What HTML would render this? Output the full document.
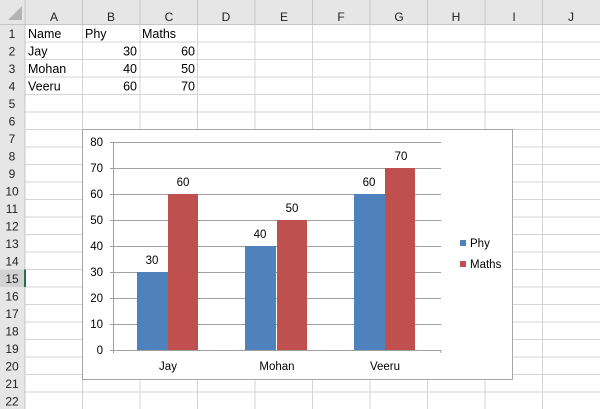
<!DOCTYPE html>
<html><head><meta charset="utf-8"><style>
html,body{margin:0;padding:0;background:#fff;}
svg{display:block;font-family:"Liberation Sans",Calibri,sans-serif;}
</style></head><body>
<svg width="600" height="409" viewBox="0 0 600 409" xmlns="http://www.w3.org/2000/svg">
<rect width="600" height="409" fill="#fff"/>
<rect x="0" y="0" width="600" height="24.5" fill="#e6e6e6"/>
<rect x="0" y="0" width="25" height="409" fill="#e6e6e6"/>
<rect x="0" y="269.5" width="25" height="17.5" fill="#d2d2d2"/>
<polygon points="8,20 22,20 22,6" fill="#b4b4b4"/>
<g stroke="#d4d4d4" stroke-width="1">
<line x1="25" y1="42" x2="600" y2="42"/><line x1="25" y1="59.5" x2="600" y2="59.5"/><line x1="25" y1="77" x2="600" y2="77"/><line x1="25" y1="94.5" x2="600" y2="94.5"/><line x1="25" y1="112" x2="600" y2="112"/><line x1="25" y1="129.5" x2="600" y2="129.5"/><line x1="25" y1="147" x2="600" y2="147"/><line x1="25" y1="164.5" x2="600" y2="164.5"/><line x1="25" y1="182" x2="600" y2="182"/><line x1="25" y1="199.5" x2="600" y2="199.5"/><line x1="25" y1="217" x2="600" y2="217"/><line x1="25" y1="234.5" x2="600" y2="234.5"/><line x1="25" y1="252" x2="600" y2="252"/><line x1="25" y1="269.5" x2="600" y2="269.5"/><line x1="25" y1="287" x2="600" y2="287"/><line x1="25" y1="304.5" x2="600" y2="304.5"/><line x1="25" y1="322" x2="600" y2="322"/><line x1="25" y1="339.5" x2="600" y2="339.5"/><line x1="25" y1="357" x2="600" y2="357"/><line x1="25" y1="374.5" x2="600" y2="374.5"/><line x1="25" y1="392" x2="600" y2="392"/>
<line x1="82.5" y1="24.5" x2="82.5" y2="409"/><line x1="140" y1="24.5" x2="140" y2="409"/><line x1="197.5" y1="24.5" x2="197.5" y2="409"/><line x1="255" y1="24.5" x2="255" y2="409"/><line x1="312.5" y1="24.5" x2="312.5" y2="409"/><line x1="370" y1="24.5" x2="370" y2="409"/><line x1="427.5" y1="24.5" x2="427.5" y2="409"/><line x1="485" y1="24.5" x2="485" y2="409"/><line x1="542.5" y1="24.5" x2="542.5" y2="409"/>
</g>
<g stroke="#c6c6c6" stroke-width="1">
<line x1="0" y1="24.5" x2="600" y2="24.5"/><line x1="25" y1="0" x2="25" y2="409"/>
<line x1="82.5" y1="0" x2="82.5" y2="24"/><line x1="140" y1="0" x2="140" y2="24"/><line x1="197.5" y1="0" x2="197.5" y2="24"/><line x1="255" y1="0" x2="255" y2="24"/><line x1="312.5" y1="0" x2="312.5" y2="24"/><line x1="370" y1="0" x2="370" y2="24"/><line x1="427.5" y1="0" x2="427.5" y2="24"/><line x1="485" y1="0" x2="485" y2="24"/><line x1="542.5" y1="0" x2="542.5" y2="24"/>
</g>
<line x1="25" y1="269.5" x2="25" y2="287" stroke="#217346" stroke-width="2"/>
<g font-size="12" fill="#222" text-anchor="middle">
<text x="54" y="21">A</text><text x="111" y="21">B</text><text x="169" y="21">C</text><text x="226" y="21">D</text><text x="284" y="21">E</text><text x="341" y="21">F</text><text x="399" y="21">G</text><text x="456" y="21">H</text><text x="514" y="21">I</text><text x="571" y="21">J</text>
</g>
<g font-size="12" fill="#222" text-anchor="middle">
<text x="12" y="38">1</text><text x="12" y="55.5">2</text><text x="12" y="73">3</text><text x="12" y="90.5">4</text><text x="12" y="108">5</text><text x="12" y="125.5">6</text><text x="12" y="143">7</text><text x="12" y="160.5">8</text><text x="12" y="178">9</text><text x="12" y="195.5">10</text><text x="12" y="213">11</text><text x="12" y="230.5">12</text><text x="12" y="248">13</text><text x="12" y="265.5">14</text><text x="12" y="283">15</text><text x="12" y="300.5">16</text><text x="12" y="318">17</text><text x="12" y="335.5">18</text><text x="12" y="353">19</text><text x="12" y="370.5">20</text><text x="12" y="388">21</text><text x="12" y="405.5">22</text>
</g>
<g font-size="12.5" fill="#000">
<text x="28" y="38">Name</text><text x="85" y="38">Phy</text><text x="142" y="38">Maths</text>
<text x="28" y="55.5">Jay</text><text x="28" y="73">Mohan</text><text x="28" y="90.5">Veeru</text>
<g text-anchor="end"><text x="137" y="55.5">30</text><text x="195" y="55.5">60</text><text x="137" y="73">40</text><text x="195" y="73">50</text><text x="137" y="90.5">60</text><text x="195" y="90.5">70</text></g>
</g>
<rect x="82.5" y="129.5" width="430" height="250" fill="#fff" stroke="#a6a6a6"/>
<g stroke="#a0a0a0" stroke-width="1">
<line x1="110" y1="142.5" x2="441" y2="142.5"/><line x1="110" y1="168.5" x2="441" y2="168.5"/><line x1="110" y1="194.5" x2="441" y2="194.5"/><line x1="110" y1="220.5" x2="441" y2="220.5"/><line x1="110" y1="246.5" x2="441" y2="246.5"/><line x1="110" y1="272.5" x2="441" y2="272.5"/><line x1="110" y1="298.5" x2="441" y2="298.5"/><line x1="110" y1="324.5" x2="441" y2="324.5"/><line x1="110" y1="350.5" x2="441" y2="350.5"/>
<line x1="113.5" y1="142" x2="113.5" y2="353"/><line x1="441" y1="350" x2="441" y2="353"/>
</g>
<g font-size="11.5" fill="#000" text-anchor="end">
<text x="103" y="146">80</text><text x="103" y="172">70</text><text x="103" y="198">60</text><text x="103" y="224">50</text><text x="103" y="250">40</text><text x="103" y="276">30</text><text x="103" y="302">20</text><text x="103" y="328">10</text><text x="103" y="354">0</text>
</g>
<g fill="#4f81bd"><rect x="137" y="272" width="31" height="78"/><rect x="245" y="246" width="31" height="104"/><rect x="354" y="194" width="31" height="156"/></g>
<g fill="#c0504d"><rect x="168" y="194" width="30" height="156"/><rect x="277" y="220" width="30" height="130"/><rect x="385" y="168" width="30" height="182"/></g>
<g font-size="11.5" fill="#000" text-anchor="middle">
<text x="152" y="264">30</text><text x="183" y="186">60</text><text x="260" y="238">40</text><text x="292" y="212">50</text><text x="369" y="186">60</text><text x="401" y="160">70</text>
<text x="168" y="370">Jay</text><text x="277" y="370">Mohan</text><text x="385" y="370">Veeru</text>
</g>
<rect x="460" y="240" width="6" height="6" fill="#4f81bd"/><rect x="460" y="261" width="6" height="6" fill="#c0504d"/>
<g font-size="11.5" fill="#000"><text x="470" y="247">Phy</text><text x="470" y="268">Maths</text></g>
</svg>
</body></html>
